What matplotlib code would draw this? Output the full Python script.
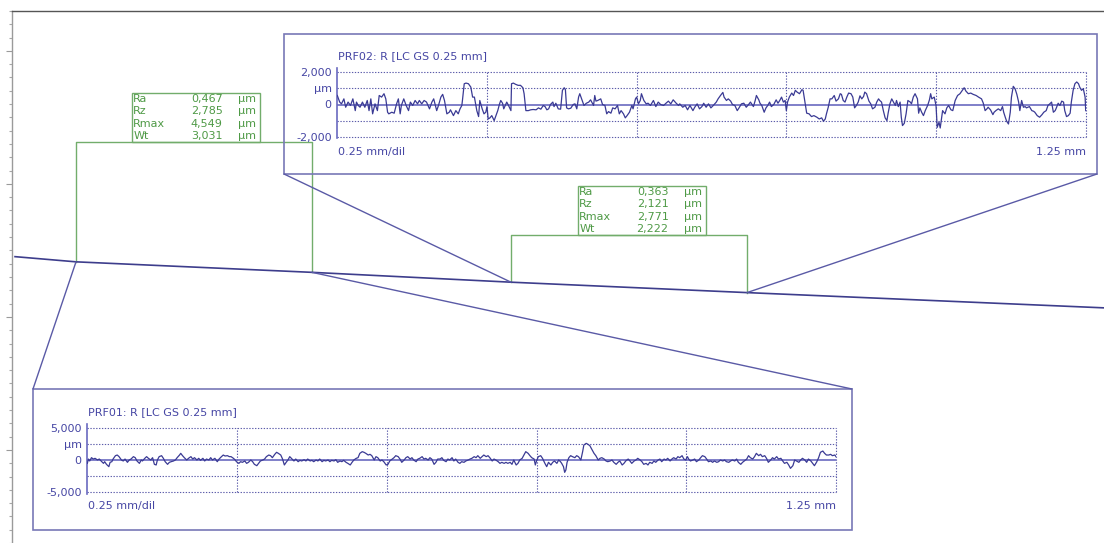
import numpy as np
import matplotlib
matplotlib.use("Agg")
import matplotlib.pyplot as plt
from matplotlib.patches import Rectangle, ConnectionPatch
from matplotlib.ticker import MultipleLocator, NullLocator

plt.rcParams["font.family"] = ["DejaVu Sans"]

W, H, DPI = 1104, 543, 100

# Primary (unfiltered) profile: position along the trace [mm], height [µm]
primary_x = [0.016, 0.339, 1.589, 2.643, 3.888, 5.784]
primary_z = [14.53, 14.14, 13.35, 12.61, 11.83, 10.68]

# Evaluation windows on the primary profile
window_start = [0.339, 2.643]      # PRF01, PRF02 [mm]
window_length = 1.25               # [mm]
window_top = [23.14, 16.14]        # height of the window marker [µm]

param_names = ["Ra", "Rz", "Rmax", "Wt"]
prf01_params = [0.467, 2.785, 4.549, 3.031]
prf02_params = [0.363, 2.121, 2.771, 2.222]

# Roughness profile PRF01 (Gaussian filter, cut-off 0.25 mm): (mm, µm)
prf01_trace = [
    (0.000, -0.52), (0.002, 0.15), (0.004, -0.15), (0.007, 0.36), (0.010, 0.15), (0.013, 0.26), (0.017, 0.00), (0.020, 0.15), (0.023, -0.15), (0.027, -0.52),
    (0.029, -0.26), (0.032, -0.67), (0.036, -1.03), (0.038, -0.36), (0.041, -0.26), (0.043, 0.15), (0.047, 0.67), (0.050, 0.77), (0.053, 0.52), (0.057, 0.00),
    (0.060, -0.15), (0.063, 0.15), (0.067, -0.36), (0.070, 0.00), (0.073, 0.15), (0.077, 0.52), (0.080, 0.36), (0.083, -0.15), (0.087, -0.52), (0.090, 0.00),
    (0.092, -0.15), (0.096, 0.26), (0.099, 0.52), (0.102, 0.26), (0.106, 0.00), (0.109, 0.36), (0.112, -0.67), (0.115, -0.77), (0.117, 0.00), (0.120, 0.52),
    (0.124, 0.67), (0.127, 0.26), (0.130, -0.26), (0.134, -0.67), (0.137, -0.36), (0.140, -0.26), (0.144, -0.15), (0.147, 0.00), (0.150, 0.36), (0.154, 0.77),
    (0.156, 1.03), (0.159, 0.67), (0.162, 0.36), (0.166, 0.00), (0.169, 0.26), (0.173, 0.52), (0.176, 0.15), (0.179, 0.36), (0.183, 0.00), (0.186, 0.26),
    (0.189, -0.05), (0.193, 0.26), (0.196, -0.15), (0.199, 0.15), (0.203, 0.00), (0.206, 0.36), (0.209, 0.00), (0.213, 0.26), (0.217, -0.26), (0.220, 0.15),
    (0.224, 0.52), (0.227, 0.77), (0.230, 0.62), (0.234, 0.67), (0.237, 0.52), (0.240, 0.52), (0.244, 0.26), (0.247, 0.00), (0.249, -0.26), (0.253, -0.52),
    (0.256, -0.26), (0.259, -0.36), (0.263, -0.15), (0.266, -0.52), (0.269, -0.36), (0.273, 0.00), (0.276, -0.26), (0.279, -0.67), (0.283, -0.88), (0.286, -0.52),
    (0.289, -0.15), (0.293, 0.00), (0.296, 0.15), (0.299, 0.52), (0.303, 0.77), (0.306, 0.67), (0.309, 0.36), (0.313, 0.88), (0.316, 1.19), (0.319, 1.03),
    (0.323, 0.77), (0.326, 0.15), (0.329, -0.77), (0.332, -0.36), (0.335, 0.00), (0.338, 0.52), (0.342, 0.15), (0.345, -0.15), (0.348, 0.15), (0.352, -0.26),
    (0.355, -0.05), (0.358, -0.15), (0.362, 0.05), (0.365, -0.15), (0.368, 0.15), (0.372, -0.15), (0.375, -0.05), (0.378, -0.26), (0.382, 0.00), (0.385, -0.15),
    (0.388, 0.15), (0.392, -0.26), (0.395, -0.05), (0.398, -0.15), (0.402, 0.00), (0.405, -0.26), (0.408, -0.05), (0.412, -0.15), (0.415, 0.05), (0.418, -0.36),
    (0.422, -0.15), (0.425, -0.26), (0.428, -0.05), (0.432, -0.36), (0.435, -0.52), (0.439, -0.77), (0.442, -0.36), (0.445, 0.00), (0.449, 0.26), (0.452, 0.36),
    (0.455, 1.03), (0.459, 1.29), (0.462, 1.19), (0.465, 1.03), (0.469, 0.77), (0.472, 0.88), (0.475, 0.67), (0.479, 0.00), (0.482, 0.52), (0.485, 0.36),
    (0.489, -0.15), (0.492, 0.00), (0.495, -0.26), (0.499, -0.77), (0.502, -0.67), (0.505, -0.15), (0.509, 0.15), (0.512, 0.36), (0.515, 0.67), (0.519, 0.52),
    (0.522, 0.15), (0.525, -0.36), (0.529, 0.00), (0.532, 0.36), (0.535, 0.52), (0.539, 0.15), (0.542, 0.36), (0.545, 0.00), (0.549, -0.26), (0.552, 0.15),
    (0.555, 0.26), (0.559, 0.52), (0.562, 0.15), (0.565, 0.26), (0.569, 0.00), (0.572, 0.36), (0.575, 0.15), (0.579, -0.67), (0.582, -0.36), (0.585, 0.15),
    (0.589, 0.15), (0.592, 0.36), (0.595, -0.05), (0.599, -0.26), (0.602, 0.15), (0.605, 0.00), (0.609, 0.36), (0.612, -0.15), (0.615, 0.15), (0.619, -0.36),
    (0.622, -0.52), (0.625, -0.26), (0.629, -0.36), (0.632, -0.15), (0.636, 0.00), (0.639, 0.15), (0.642, 0.26), (0.646, 0.52), (0.649, 0.36), (0.652, 0.67),
    (0.656, 0.26), (0.659, 0.52), (0.662, 0.77), (0.666, 0.52), (0.669, 0.67), (0.672, 0.36), (0.676, -0.15), (0.679, 0.15), (0.682, 0.00), (0.686, -0.26),
    (0.689, -0.52), (0.692, -0.36), (0.696, -0.52), (0.699, -0.36), (0.702, -0.52), (0.706, -0.36), (0.709, -0.67), (0.712, 0.00), (0.716, -0.77), (0.719, -0.52),
    (0.722, 0.00), (0.726, 0.26), (0.729, 0.77), (0.732, 1.29), (0.736, 1.03), (0.739, 0.67), (0.742, 0.36), (0.746, 0.15), (0.748, -0.77), (0.750, -0.15),
    (0.753, 0.52), (0.757, 0.67), (0.760, 0.26), (0.764, -0.52), (0.767, -1.03), (0.770, -0.36), (0.774, -0.77), (0.777, -0.36), (0.780, -0.15), (0.784, -0.52),
    (0.787, 0.00), (0.790, -0.26), (0.792, -0.52), (0.795, -1.03), (0.797, -1.91), (0.799, -1.55), (0.801, -0.36), (0.804, 0.36), (0.807, 0.67), (0.810, 0.52),
    (0.814, 0.36), (0.817, 0.67), (0.820, 0.52), (0.824, 0.00), (0.827, 1.29), (0.829, 2.32), (0.833, 2.58), (0.836, 2.42), (0.839, 2.22), (0.843, 1.55),
    (0.846, 1.03), (0.849, 0.67), (0.853, 0.00), (0.856, 0.26), (0.859, 0.36), (0.863, 0.15), (0.866, -0.15), (0.869, -0.26), (0.873, -0.15), (0.876, 0.00),
    (0.879, -0.36), (0.883, -0.67), (0.886, -0.36), (0.889, -0.15), (0.893, -0.77), (0.896, -0.52), (0.899, -0.15), (0.903, 0.15), (0.906, -0.15), (0.909, -0.52),
    (0.913, -0.15), (0.916, 0.00), (0.919, 0.26), (0.923, 0.00), (0.926, -0.26), (0.929, -0.67), (0.933, -0.52), (0.936, -0.77), (0.939, -0.36), (0.943, -0.52),
    (0.946, -0.15), (0.949, -0.36), (0.953, 0.00), (0.956, 0.15), (0.959, -0.26), (0.963, 0.15), (0.966, 0.00), (0.969, 0.26), (0.973, -0.15), (0.976, 0.15),
    (0.979, 0.36), (0.983, 0.15), (0.986, 0.52), (0.989, 0.36), (0.993, 0.67), (0.996, 0.15), (0.999, 0.00), (1.002, 0.52), (1.004, 0.15), (1.007, -0.15),
    (1.011, 0.00), (1.014, 0.15), (1.017, -0.26), (1.021, 0.00), (1.024, 0.36), (1.027, 0.67), (1.031, 0.52), (1.034, 0.15), (1.037, -0.26), (1.041, -0.15),
    (1.044, -0.36), (1.047, -0.15), (1.051, -0.36), (1.054, -0.26), (1.057, 0.00), (1.061, -0.15), (1.064, 0.00), (1.067, -0.26), (1.071, -0.36), (1.074, -0.15),
    (1.077, 0.00), (1.081, -0.15), (1.084, 0.15), (1.087, -0.36), (1.091, -0.67), (1.094, -0.36), (1.097, -0.15), (1.101, 0.15), (1.104, 0.67), (1.107, 0.36),
    (1.111, 0.15), (1.114, 0.52), (1.117, 1.03), (1.121, 0.67), (1.124, 0.88), (1.127, 0.52), (1.131, 0.67), (1.134, 0.26), (1.137, -0.36), (1.141, 0.00),
    (1.144, 0.36), (1.147, 0.15), (1.151, 0.52), (1.154, 0.15), (1.158, 0.26), (1.161, -0.15), (1.164, -0.52), (1.168, -0.36), (1.171, -0.77), (1.174, -1.29),
    (1.178, -0.88), (1.181, 0.00), (1.184, -0.15), (1.188, -0.36), (1.191, 0.00), (1.194, 0.26), (1.198, 0.00), (1.201, -0.36), (1.204, 0.15), (1.208, -0.15),
    (1.211, -0.52), (1.214, -0.88), (1.218, -0.26), (1.221, 0.36), (1.224, 1.19), (1.228, 1.39), (1.231, 1.03), (1.234, 0.77), (1.238, 0.77), (1.241, 0.88),
    (1.244, 0.67), (1.248, 0.77), (1.250, 0.52),
]

# Roughness profile PRF02 (Gaussian filter, cut-off 0.25 mm): (mm, µm)
prf02_trace = [
    (0.000, 0.56), (0.001, 0.46), (0.004, 0.15), (0.007, 0.04), (0.011, 0.35), (0.014, -0.17), (0.018, 0.15), (0.022, -0.06), (0.026, 0.35), (0.030, -0.38),
    (0.032, 0.15), (0.035, -0.06), (0.038, -0.17), (0.042, 0.15), (0.046, -0.17), (0.050, 0.25), (0.053, -0.38), (0.056, 0.35), (0.059, -0.58), (0.063, 0.04),
    (0.067, -0.38), (0.070, 0.56), (0.074, 0.46), (0.078, 0.67), (0.081, 0.35), (0.084, -0.48), (0.086, -0.58), (0.091, -0.48), (0.095, -0.54), (0.099, 0.04),
    (0.102, 0.35), (0.105, -0.58), (0.107, -0.06), (0.111, 0.35), (0.115, -0.06), (0.119, -0.38), (0.122, 0.15), (0.126, -0.06), (0.130, 0.25), (0.134, 0.04),
    (0.137, 0.25), (0.141, 0.04), (0.145, 0.25), (0.149, 0.15), (0.154, -0.27), (0.158, 0.15), (0.161, 0.35), (0.166, -0.38), (0.169, -0.06), (0.173, 0.46),
    (0.176, 0.63), (0.179, 0.25), (0.183, -0.58), (0.187, -0.48), (0.189, -0.33), (0.194, -0.69), (0.198, -0.38), (0.202, -0.58), (0.205, -0.27), (0.208, -0.06),
    (0.209, 0.25), (0.212, 1.29), (0.215, 1.33), (0.219, 1.29), (0.223, 1.08), (0.226, 0.46), (0.229, 0.46), (0.233, -0.38), (0.236, -0.75), (0.238, 0.25),
    (0.242, -0.27), (0.245, -0.58), (0.248, -0.48), (0.250, -0.13), (0.252, -0.90), (0.255, -0.83), (0.258, -0.69), (0.262, -1.00), (0.265, -0.69), (0.268, -0.38),
    (0.271, 0.04), (0.273, 0.25), (0.276, 0.08), (0.278, -0.27), (0.283, 0.15), (0.286, -0.06), (0.290, -0.38), (0.291, 1.29), (0.294, 1.33), (0.298, 1.25),
    (0.302, 1.19), (0.306, 1.19), (0.310, 1.04), (0.312, 0.67), (0.315, -0.38), (0.319, -0.38), (0.323, -0.33), (0.327, -0.31), (0.332, -0.33), (0.336, -0.21),
    (0.340, -0.29), (0.344, -0.06), (0.347, -0.13), (0.350, -0.33), (0.353, -0.27), (0.356, 0.00), (0.360, 0.15), (0.362, -0.13), (0.365, 0.08), (0.369, -0.27),
    (0.373, -0.29), (0.376, 0.88), (0.379, 1.04), (0.381, 0.92), (0.383, -0.21), (0.386, -0.27), (0.390, -0.23), (0.394, 0.00), (0.397, 0.04), (0.400, -0.27),
    (0.403, 0.46), (0.405, 0.67), (0.408, 0.35), (0.412, -0.06), (0.416, 0.08), (0.420, 0.15), (0.423, 0.29), (0.428, -0.06), (0.430, 0.56), (0.432, 0.21),
    (0.435, 0.25), (0.440, 0.35), (0.443, 0.00), (0.447, -0.06), (0.450, -0.58), (0.453, -0.44), (0.457, -0.54), (0.460, -0.21), (0.464, -0.27), (0.468, -0.06),
    (0.471, -0.58), (0.474, -0.38), (0.478, -0.58), (0.481, -0.83), (0.484, -0.69), (0.488, -0.48), (0.492, -0.06), (0.494, -0.27), (0.498, 0.35), (0.500, 0.46),
    (0.503, 0.04), (0.506, 0.25), (0.508, 0.67), (0.512, 0.25), (0.516, 0.04), (0.519, 0.08), (0.523, -0.06), (0.528, 0.25), (0.532, -0.13), (0.536, 0.15),
    (0.540, 0.00), (0.545, -0.06), (0.549, 0.08), (0.553, 0.21), (0.557, 0.04), (0.561, 0.29), (0.566, 0.08), (0.570, -0.06), (0.572, 0.04), (0.577, -0.17),
    (0.581, -0.06), (0.585, -0.33), (0.589, -0.06), (0.594, -0.38), (0.597, -0.17), (0.601, 0.04), (0.605, -0.27), (0.609, -0.13), (0.612, 0.08), (0.616, -0.17),
    (0.620, 0.04), (0.624, -0.21), (0.628, -0.06), (0.633, 0.15), (0.636, 0.35), (0.640, 0.56), (0.644, 0.75), (0.646, 0.46), (0.650, 0.25), (0.653, 0.35),
    (0.657, 0.21), (0.660, 0.00), (0.664, -0.06), (0.668, -0.38), (0.671, -0.21), (0.675, 0.04), (0.679, 0.08), (0.683, -0.17), (0.687, 0.00), (0.690, 0.15),
    (0.695, -0.13), (0.698, 0.25), (0.700, 0.56), (0.704, 0.29), (0.706, 0.08), (0.709, -0.06), (0.713, -0.48), (0.716, -0.21), (0.719, -0.06), (0.722, 0.15),
    (0.725, -0.13), (0.729, 0.00), (0.733, 0.29), (0.736, 0.08), (0.739, 0.25), (0.742, 0.46), (0.745, 0.15), (0.748, 0.25), (0.750, -0.38), (0.752, 0.15),
    (0.755, 0.46), (0.759, 0.71), (0.762, 0.56), (0.765, 0.88), (0.768, 0.77), (0.772, 0.67), (0.776, 0.92), (0.778, 0.88), (0.781, 0.15), (0.784, -0.54),
    (0.788, -0.58), (0.792, -0.75), (0.796, -0.69), (0.801, -0.79), (0.805, -0.90), (0.809, -0.83), (0.812, -1.04), (0.815, -0.90), (0.817, -0.58), (0.820, -0.17),
    (0.823, 0.35), (0.826, 0.35), (0.830, 0.56), (0.833, 0.21), (0.837, 0.35), (0.840, 0.67), (0.842, 0.63), (0.845, 0.25), (0.848, 0.15), (0.851, 0.46),
    (0.854, 0.71), (0.858, 0.67), (0.861, 0.46), (0.864, -0.21), (0.867, -0.06), (0.870, 0.15), (0.873, 0.54), (0.876, 0.35), (0.879, 0.50), (0.881, 0.77),
    (0.884, 0.67), (0.888, 0.21), (0.891, 0.04), (0.894, -0.27), (0.898, -0.17), (0.901, 0.15), (0.904, 0.35), (0.906, 0.25), (0.909, 0.15), (0.912, -0.38),
    (0.915, -0.83), (0.918, -1.00), (0.920, -0.54), (0.923, 0.04), (0.926, 0.35), (0.929, 0.15), (0.932, -0.06), (0.934, 0.25), (0.937, -0.13), (0.940, 0.15),
    (0.942, -0.79), (0.944, -1.31), (0.947, -1.17), (0.950, -0.58), (0.953, 0.25), (0.957, 0.15), (0.959, 0.04), (0.962, 0.46), (0.965, 0.67), (0.969, 0.35),
    (0.971, -0.54), (0.973, -0.21), (0.976, -0.48), (0.979, -0.69), (0.982, -0.38), (0.986, -0.06), (0.989, 0.29), (0.991, 0.67), (0.993, 0.35), (0.997, 0.46),
    (1.000, -0.06), (1.002, -1.42), (1.005, -1.10), (1.007, -1.46), (1.009, -0.90), (1.011, -0.38), (1.015, -0.58), (1.018, -0.21), (1.021, -0.06), (1.025, -0.33),
    (1.028, -0.38), (1.032, 0.25), (1.036, 0.56), (1.040, 0.67), (1.043, 0.83), (1.047, 1.04), (1.050, 0.83), (1.054, 0.67), (1.058, 0.71), (1.062, 0.63),
    (1.067, 0.56), (1.071, 0.46), (1.076, 0.35), (1.079, 0.08), (1.082, -0.38), (1.085, -0.27), (1.087, -0.17), (1.091, -0.33), (1.095, -0.63), (1.097, -0.48),
    (1.100, -0.38), (1.104, -0.27), (1.108, -0.38), (1.111, -0.13), (1.113, -0.48), (1.116, -0.83), (1.118, -1.04), (1.121, -1.21), (1.124, -0.48), (1.126, 0.46),
    (1.129, 1.13), (1.132, 0.98), (1.135, 0.63), (1.138, 0.15), (1.140, -0.38), (1.143, 0.25), (1.146, -0.17), (1.149, -0.13), (1.151, -0.21), (1.156, -0.13),
    (1.160, -0.38), (1.163, -0.42), (1.165, -0.48), (1.169, -0.69), (1.173, -0.79), (1.177, -0.63), (1.180, -0.48), (1.184, -0.38), (1.187, -0.06), (1.190, 0.04),
    (1.193, 0.15), (1.196, -0.48), (1.199, -0.38), (1.201, -0.21), (1.204, 0.08), (1.207, -0.06), (1.210, 0.21), (1.213, 0.15), (1.215, -0.38), (1.218, -0.75),
    (1.221, -0.69), (1.224, -0.54), (1.226, 0.15), (1.229, 0.88), (1.232, 1.29), (1.235, 1.40), (1.238, 1.29), (1.240, 1.08), (1.243, 0.88), (1.246, 0.98),
    (1.249, 0.46), (1.250, -0.38),
]

# Colours
C_PROFILE = "#3d3d8c"
C_CONNECT = "#5a5aa6"
C_FRAME = "#7878b6"
C_TRACE = "#3a3a94"
C_ZERO = "#6a6ac0"
C_GRID = "#5c5caa"
C_TEXT = "#4646a4"
C_GREEN_LINE = "#72ad6b"
C_GREEN_TEXT = "#4f9a46"


def fig_xy(px, py):
    """Pixel position (from top-left) -> figure fraction."""
    return (px / W, 1.0 - py / H)


def fmt(v):
    return f"{v:.3f}".replace(".", ",")


fig = plt.figure(figsize=(W / DPI, H / DPI), dpi=DPI)
fig.patch.set_facecolor("white")

# ---- main view of the primary profile ----
ax = fig.add_axes([12 / W, 0.0, 1092 / W, 532 / H])
ax.set_facecolor("none")
ax.set_xlim(0, 5.784)
ax.set_ylim(-7.0, 33.0)
for side in ("right", "bottom"):
    ax.spines[side].set_visible(False)
ax.spines["top"].set_color("#555555")
ax.spines["top"].set_linewidth(1.0)
ax.spines["left"].set_color("#9a9a9a")
ax.spines["left"].set_linewidth(1.0)
ax.xaxis.set_major_locator(NullLocator())
ax.yaxis.set_major_locator(MultipleLocator(10))
ax.yaxis.set_minor_locator(MultipleLocator(1))
ax.tick_params(axis="y", which="major", length=4.5, width=0.8, color="#9a9a9a", labelleft=False)
ax.tick_params(axis="y", which="minor", length=2.2, width=0.8, color="#a8a8a8")

ax.plot(primary_x, primary_z, color=C_PROFILE, lw=1.2, zorder=3)

box_left = [0.634, 2.996]       # parameter box positions [mm]
box_w, box_h = 0.678, 3.73
row_dy = [4.3, 13.3, 22.3, 31.2]  # pt below the box top
window_ends = []
for i, (x0, top, params) in enumerate(zip(window_start, window_top, [prf01_params, prf02_params])):
    x1 = x0 + window_length
    z0, z1 = np.interp([x0, x1], primary_x, primary_z)
    window_ends.append(((x0, z0), (x1, z1)))
    ax.plot([x0, x0, x1, x1], [z0, top, top, z1], color=C_GREEN_LINE, lw=1.0, zorder=2)
    bx = box_left[i]
    ax.add_patch(Rectangle((bx, top), box_w, box_h, fill=False, ec=C_GREEN_LINE, lw=1.0, zorder=2))
    for name, val, dy in zip(param_names, params, row_dy):
        kw = dict(xy=(bx, top + box_h), xycoords="data", textcoords="offset points",
                  va="center", fontsize=8, color=C_GREEN_TEXT)
        ax.annotate(name, xytext=(1.1, -dy), ha="left", **kw)
        ax.annotate(fmt(val), xytext=(65.5, -dy), ha="right", **kw)
        ax.annotate("µm", xytext=(76.7, -dy), ha="left", **kw)


# ---- roughness profile panels ----
def roughness_panel(plot_box, frame_box, limit, trace, title, lab_dy, corner_rows, window):
    l, t, r, b = plot_box
    axi = fig.add_axes([l / W, 1 - b / H, (r - l) / W, (b - t) / H])
    axi.patch.set_alpha(0)
    axi.set_xlim(0, 1.25)
    axi.set_ylim(-limit, limit)
    for sp in axi.spines.values():
        sp.set_visible(False)
    axi.set_xticks([])
    axi.set_yticks([-limit, 0, limit / 2, limit])
    axi.set_yticklabels([fmt(-limit), "0", "µm", fmt(limit)])
    axi.tick_params(axis="y", length=0, pad=4, labelsize=8, labelcolor=C_TEXT)
    dotted = (0, (1.2, 1.4))
    for y in (-limit, -limit / 2, limit / 2, limit):
        axi.axhline(y, color=C_GRID, lw=0.8, ls=dotted, clip_on=False)
    for x in (0.25, 0.5, 0.75, 1.0, 1.25):
        axi.axvline(x, color=C_GRID, lw=0.8, ls=dotted, clip_on=False)
    axi.axhline(0, color=C_ZERO, lw=1.2)
    axi.plot([0, 0], [-limit * 1.05, limit * 1.12], color=C_ZERO, lw=1.2, clip_on=False)
    tx, tz = np.array(trace).T
    axi.plot(tx, tz, color=C_TRACE, lw=0.9, zorder=3)

    tkw = dict(xycoords="axes fraction", textcoords="offset points", va="center",
               fontsize=8, color=C_TEXT)
    axi.annotate(title, xy=(0, 1), xytext=(0.4, lab_dy[0]), ha="left", **tkw)
    axi.annotate("0.25 mm/dil", xy=(0, 0), xytext=(0.4, -lab_dy[1]), ha="left", **tkw)
    axi.annotate("1.25 mm", xy=(1, 0), xytext=(0, -lab_dy[1]), ha="right", **tkw)

    fl, ft, fr, fb = frame_box
    fig.add_artist(Rectangle(fig_xy(fl, fb), (fr - fl) / W, (fb - ft) / H,
                             transform=fig.transFigure, fill=False, ec=C_FRAME, lw=1.2))
    cy = ft if corner_rows == "top" else fb
    for (wx, wz), cx in zip(window, (fl, fr)):
        fig.add_artist(ConnectionPatch(xyA=(wx, wz), coordsA=ax.transData,
                                       xyB=fig_xy(cx, cy), coordsB=fig.transFigure,
                                       color=C_CONNECT, lw=1.0))


roughness_panel((337.3, 72.3, 1085.7, 136.7), (284, 34, 1097, 174), 2.0, prf02_trace,
                "PRF02: R [LC GS 0.25 mm]", (11.7, 11.0), "bottom", window_ends[1])
roughness_panel((87.3, 427.7, 836.0, 492.3), (33, 389, 852, 530), 5.0, prf01_trace,
                "PRF01: R [LC GS 0.25 mm]", (11.2, 10.0), "top", window_ends[0])

fig.savefig("out.png", dpi=DPI, facecolor="white")
